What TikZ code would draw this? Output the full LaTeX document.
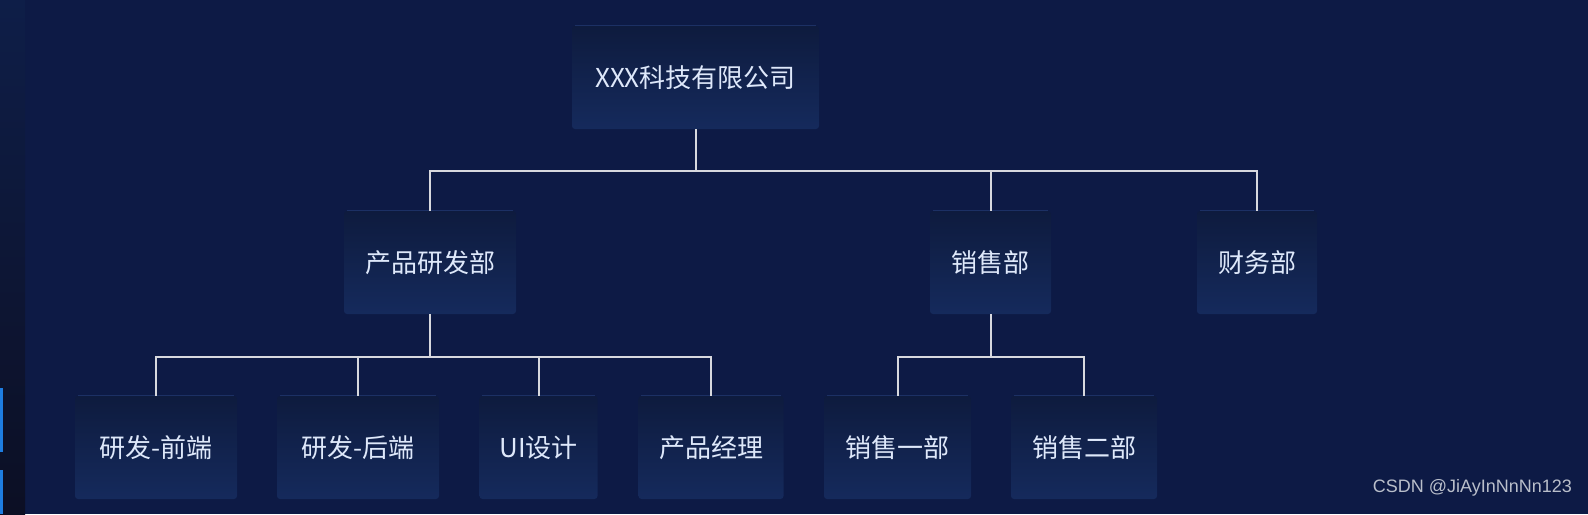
\documentclass[tikz,border=0pt]{standalone}
\usepackage{fontspec}
\setmainfont{Noto Sans CJK SC}
\newfontfamily\wmfont{Liberation Sans}
\definecolor{cbg}{RGB}{13,26,69}
\definecolor{cside}{RGB}{12,15,36}
\definecolor{csidetop}{RGB}{14,30,72}
\definecolor{cboxtop}{RGB}{14,27,62}
\definecolor{cboxbot}{RGB}{21,42,92}
\definecolor{cboxedge}{RGB}{28,48,100}
\definecolor{ctext}{RGB}{222,232,250}
\definecolor{cline}{RGB}{215,216,222}
\definecolor{cmark}{RGB}{30,125,225}
\definecolor{cwm}{RGB}{185,190,202}
\tikzset{orgchart/.style={x=0.5pt,y=-0.5pt,font=\fontsize{13}{15}\selectfont}}
\tikzset{unit/.style={rounded corners=1.5pt,top color=cboxtop,bottom color=cboxbot,text=ctext,minimum height=51.5pt,inner sep=0pt},
  link/.style={cline,line width=1pt}}

\begin{document}
\begin{tikzpicture}[orgchart]
    % backdrop
    \fill[cbg] (0,0) rectangle (1588,514);
    \shade[top color=csidetop,bottom color=cside] (0,0) rectangle (25,514);
    \fill[cmark] (0,388) rectangle (3,452);
    \fill[cmark] (0,470) rectangle (3,514);
    % boxes
    \node[unit,minimum width=123.5pt] (corp) at (695.5,77.5) {XXX科技有限公司};
    \node[unit,minimum width=86pt] (rd) at (430,262.5) {产品研发部};
    \node[unit,minimum width=60.5pt] (sales) at (990.5,262.5) {销售部};
    \node[unit,minimum width=60pt] (fin) at (1257,262.5) {财务部};
    \node[unit,minimum width=81pt] (fe) at (156,447.5) {研发-前端};
    \node[unit,minimum width=81pt] (be) at (358,447.5) {研发-后端};
    \node[unit,minimum width=59pt] (ui) at (538.5,447.5) {UI设计};
    \node[unit,minimum width=72.5pt] (pm) at (711,447.5) {产品经理};
    \node[unit,minimum width=73.5pt] (s1) at (897.5,447.5) {销售一部};
    \node[unit,minimum width=73pt] (s2) at (1084,447.5) {销售二部};
    \foreach \b in {corp,rd,sales,fin,fe,be,ui,pm,s1,s2}
      \draw[cboxedge,line width=0.6pt] ([xshift=1.5pt]\b.north west) -- ([xshift=-1.5pt]\b.north east);
    % tree
    \draw[link] (corp.south) -- ++(0,-21pt) coordinate (corpbus);
    \foreach \c in {rd,sales,fin} \draw[link] (corpbus) -| (\c.north);
    \draw[link] (rd.south) -- ++(0,-21.5pt) coordinate (rdbus);
    \foreach \c in {fe,be,ui,pm} \draw[link] (rdbus) -| (\c.north);
    \draw[link] (sales.south) -- ++(0,-21.5pt) coordinate (salesbus);
    \foreach \c in {s1,s2} \draw[link] (salesbus) -| (\c.north);
    \node[font=\wmfont\fontsize{9}{11}\selectfont,text=cwm,anchor=east] (mark) at (1579,488) {CSDN @JiAyInNnNn123};
  \end{tikzpicture}
\end{document}
